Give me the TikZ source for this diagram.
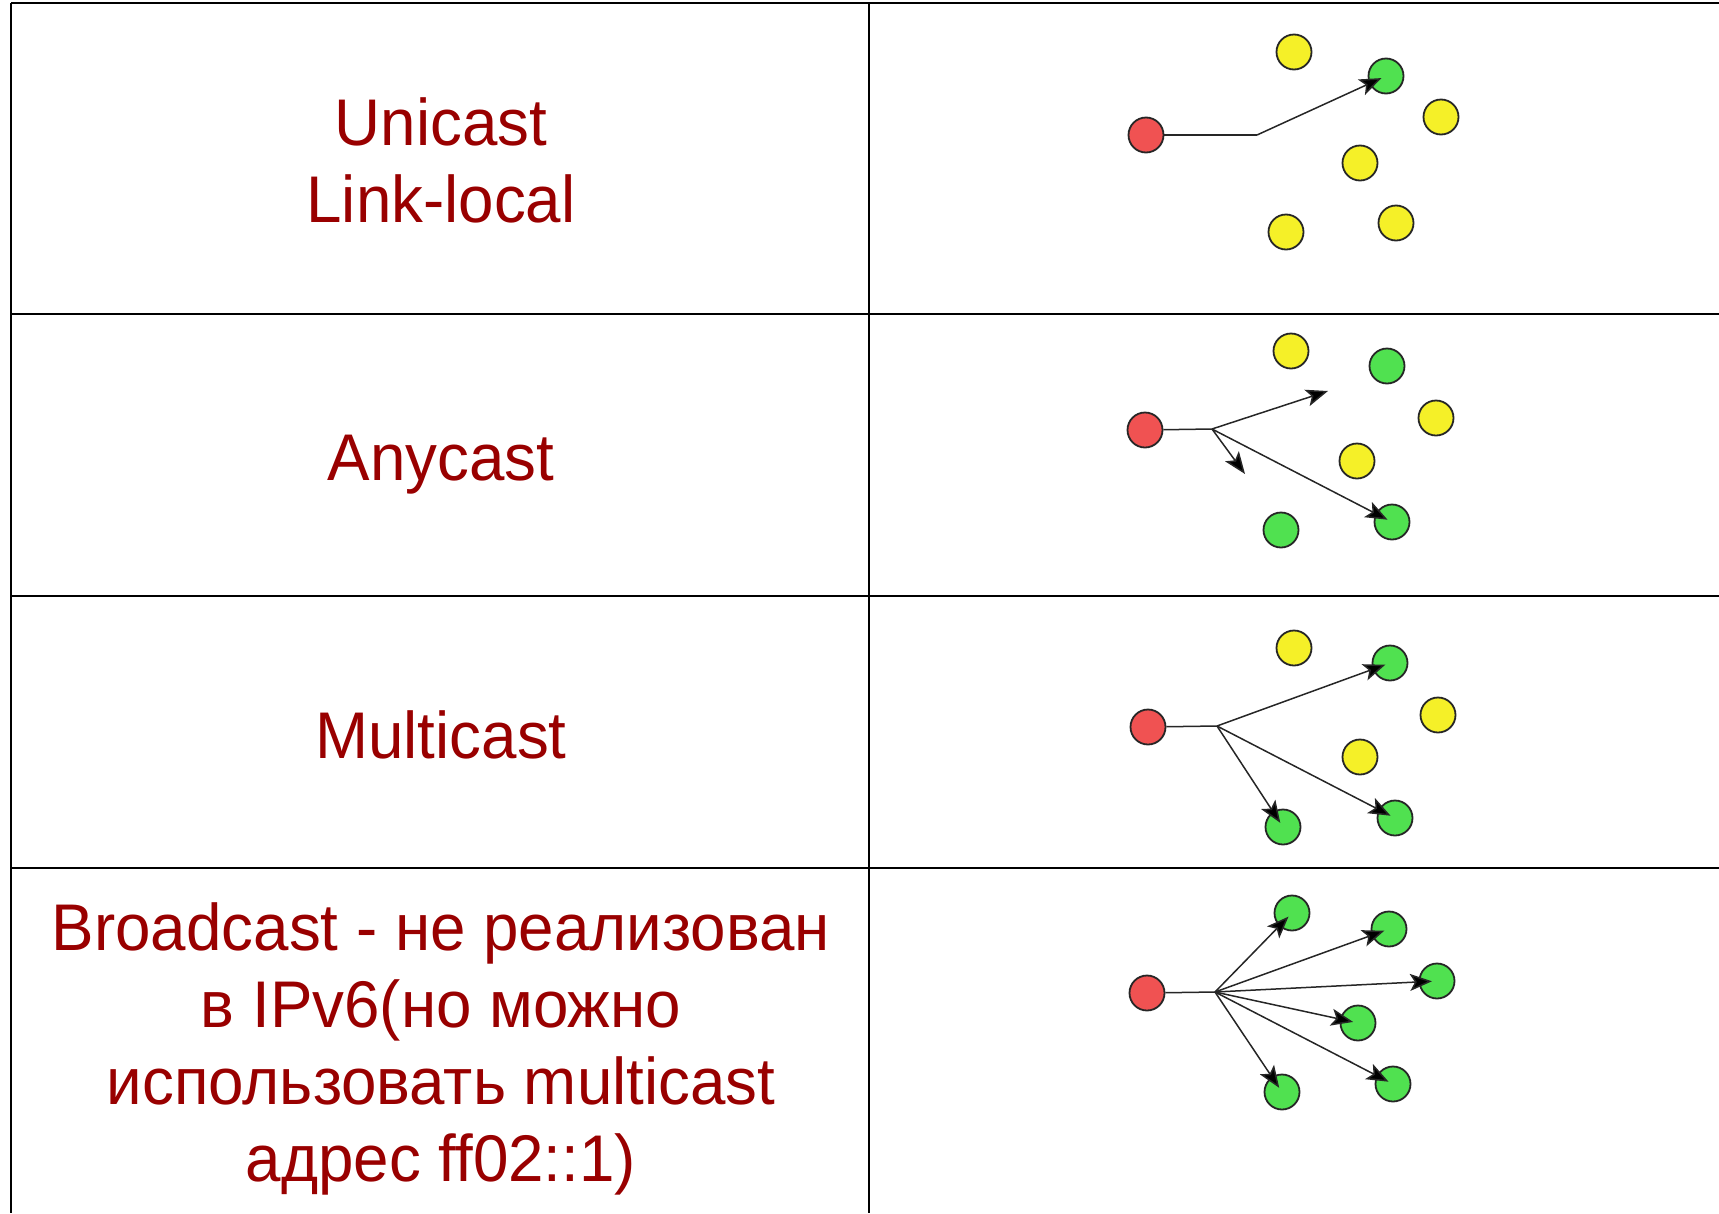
\documentclass[tikz,border=0pt]{standalone}
\usepackage{fontspec}
\setmainfont{Liberation Sans}[FakeStretch=0.965]
\usetikzlibrary{arrows.meta}
\definecolor{txtred}{RGB}{153,0,0}
\definecolor{nred}{RGB}{240,82,82}
\definecolor{nyel}{RGB}{245,240,40}
\definecolor{ngrn}{RGB}{80,225,80}
\tikzset{
  grid/.style={line width=2pt, black},
  lbl/.style={align=center, text=txtred, font=\fontsize{66}{77}\selectfont, inner sep=0pt},
  dot/.style={circle, draw=black!85, line width=1.8pt, minimum size=35pt, inner sep=0pt},
  src/.style={dot, fill=nred},
  yel/.style={dot, fill=nyel},
  grn/.style={dot, fill=ngrn},
  wire/.style={line width=1.5pt, black!85},
  arr/.style={wire, -{Stealth[length=22pt,width=17pt,inset=5pt,fill=black]}, shorten >=5pt},
}
\begin{document}
\begin{tikzpicture}[x=1pt,y=-1pt]
\useasboundingbox (0,0) rectangle (1719,1213);
% table
\draw[grid] (11,3) -- (1719,3);
\draw[grid] (11,313.5) -- (1719,313.5);
\draw[grid] (11,596) -- (1719,596);
\draw[grid] (11,868) -- (1719,868);
\draw[grid] (11,3) -- (11,1213);
\draw[grid] (869,3) -- (869,1213);
% labels
\node[lbl] (t1) at (441,160) {Unicast\\Link-local};
\node[lbl] (t2) at (441,465) {Anycast};
\node[lbl] (t3) at (441,735) {Multicast};
\node[lbl] (t4) at (441,1049) {Broadcast - не реализован\\в IPv6(но можно\\использовать multicast\\адрес ff02::1)};
% row 1
\node[src] (r1s) at (1146,135) {};
\node[yel] (r1a) at (1294,52) {};
\node[grn] (r1g) at (1386,76) {};
\node[yel] (r1b) at (1441,117) {};
\node[yel] (r1c) at (1360,163) {};
\node[yel] (r1d) at (1286,232) {};
\node[yel] (r1e) at (1396,223) {};
\coordinate (r1k) at (1257,135);
\draw[wire] (r1s) -- (r1k);
\draw[arr] (r1k) -- (r1g.center);
% row 2
\node[src] (r2s) at (1145,430) {};
\node[yel] (r2a) at (1291,351) {};
\node[grn] (r2g1) at (1387,366) {};
\node[yel] (r2b) at (1436,418) {};
\node[yel] (r2c) at (1357,461) {};
\node[grn] (r2g2) at (1281,530) {};
\node[grn] (r2g3) at (1392,522) {};
\coordinate (r2k) at (1212,429);
\coordinate (r2e1) at (1328,391);
\coordinate (r2e2) at (1245,474);
\draw[wire] (r2s) -- (r2k);
\draw[arr, shorten >=0pt] (r2k) -- (r2e1);
\draw[arr, shorten >=0pt] (r2k) -- (r2e2);
\draw[arr] (r2k) -- (r2g3.center);
% row 3
\node[src] (r3s) at (1148,727) {};
\node[yel] (r3a) at (1294,648) {};
\node[grn] (r3g1) at (1390,663) {};
\node[yel] (r3b) at (1438,715) {};
\node[yel] (r3c) at (1360,757) {};
\node[grn] (r3g2) at (1283,827) {};
\node[grn] (r3g3) at (1395,818) {};
\coordinate (r3k) at (1217,726);
\draw[wire] (r3s) -- (r3k);
\draw[arr] (r3k) -- (r3g1.center);
\draw[arr] (r3k) -- (r3g2.center);
\draw[arr] (r3k) -- (r3g3.center);
% row 4
\node[src] (r4s) at (1147,993) {};
\node[grn] (r4g1) at (1292,913) {};
\node[grn] (r4g2) at (1389,929) {};
\node[grn] (r4g3) at (1437,981) {};
\node[grn] (r4g4) at (1358,1023) {};
\node[grn] (r4g5) at (1393,1084) {};
\node[grn] (r4g6) at (1282,1092) {};
\coordinate (r4k) at (1215,992);
\draw[wire] (r4s) -- (r4k);
\foreach \g in {r4g1,r4g2,r4g3,r4g4,r4g5,r4g6}
  \draw[arr] (r4k) -- (\g.center);
\end{tikzpicture}
\end{document}
